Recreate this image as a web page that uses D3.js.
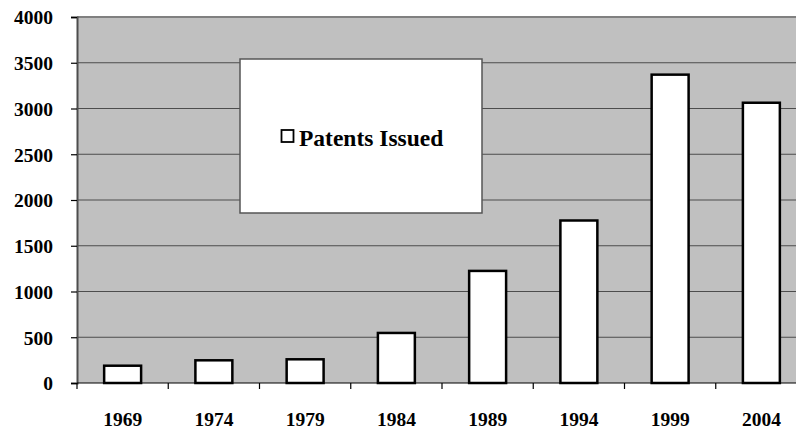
<!DOCTYPE html>
<html>
<head>
<meta charset="utf-8">
<script src="https://cdn.jsdelivr.net/npm/d3@7"></script>
<style>
  body { margin: 0; background: #fff; }
  text { font-family: "Liberation Serif", "Times New Roman", serif; font-weight: bold; }
</style>
</head>
<body>
<script>
var years = ["1969", "1974", "1979", "1984", "1989", "1994", "1999", "2004"];
var patents = [189, 248, 259, 547, 1225, 1776, 3370, 3063];
var yTicks = [0, 500, 1000, 1500, 2000, 2500, 3000, 3500, 4000];
var seriesName = "Patents Issued";

var width = 796,
    height = 429,
    plotLeft = 77,
    plotTop = 17,
    plotBottom = 383,
    plotRight = 807;

var svg = d3.select("body")
  .append("svg")
  .attr("width", width)
  .attr("height", height);

var x = d3.scaleBand()
  .domain(years)
  .range([plotLeft, plotRight])
  .paddingInner(0.595)
  .paddingOuter(0.2975);

var y = d3.scaleLinear()
  .domain([0, 4000])
  .range([plotBottom, plotTop]);

// plot background
svg.append("rect")
  .attr("x", plotLeft)
  .attr("y", plotTop)
  .attr("width", plotRight - plotLeft)
  .attr("height", plotBottom - plotTop)
  .attr("fill", "#c0c0c0");

// gridlines
svg.append("g")
  .selectAll("line")
  .data(yTicks.slice(1))
  .enter().append("line")
  .attr("x1", plotLeft)
  .attr("x2", plotRight)
  .attr("y1", function(d) { return y(d); })
  .attr("y2", function(d) { return y(d); })
  .attr("stroke", function(d) { return d == 4000 ? "#808080" : "#4d4d4d"; })
  .attr("stroke-width", function(d) { return d == 4000 ? 2 : 1.2; });

// y axis
var yAxis = svg.append("g")
  .attr("transform", "translate(" + plotLeft + ",0)")
  .call(d3.axisLeft(y).tickValues(yTicks).tickFormat(d3.format("d")).tickSize(6).tickPadding(18));
yAxis.select(".domain").attr("stroke", "#4d4d4d").attr("stroke-width", 2);
yAxis.selectAll(".tick line").attr("stroke", "#000").attr("stroke-width", 1.2);
yAxis.selectAll(".tick text")
  .attr("font-size", 19.5)
  .attr("fill", "#000")
  .attr("dy", "0.35em");

// x axis line + ticks at band boundaries
svg.append("line")
  .attr("x1", plotLeft).attr("x2", plotRight)
  .attr("y1", plotBottom).attr("y2", plotBottom)
  .attr("stroke", "#000").attr("stroke-width", 1.2);

var step = x.step();
svg.append("g")
  .selectAll("line")
  .data(d3.range(years.length + 1))
  .enter().append("line")
  .attr("x1", function(i) { return plotLeft + i * step; })
  .attr("x2", function(i) { return plotLeft + i * step; })
  .attr("y1", plotBottom)
  .attr("y2", plotBottom + 6)
  .attr("stroke", "#000")
  .attr("stroke-width", 1.2);

svg.append("g")
  .selectAll("text")
  .data(years)
  .enter().append("text")
  .attr("x", function(d) { return x(d) + x.bandwidth() / 2; })
  .attr("y", 425.5)
  .attr("text-anchor", "middle")
  .attr("font-size", 19.5)
  .text(function(d) { return d; });

// bars
svg.append("g")
  .selectAll("rect")
  .data(years)
  .enter().append("rect")
  .attr("x", function(d) { return x(d); })
  .attr("y", function(d, i) { return y(patents[i]); })
  .attr("width", x.bandwidth())
  .attr("height", function(d, i) { return plotBottom - y(patents[i]); })
  .attr("fill", "#fff")
  .attr("stroke", "#000")
  .attr("stroke-width", 2.5);

// legend
var legend = svg.append("g");
legend.append("rect")
  .attr("x", 240)
  .attr("y", 59)
  .attr("width", 242)
  .attr("height", 154)
  .attr("fill", "#fff")
  .attr("stroke", "#555")
  .attr("stroke-width", 1.5);
legend.append("rect")
  .attr("x", 281.5)
  .attr("y", 130)
  .attr("width", 12)
  .attr("height", 12)
  .attr("fill", "#fff")
  .attr("stroke", "#000")
  .attr("stroke-width", 1.8);
legend.append("text")
  .attr("x", 299)
  .attr("y", 145.5)
  .attr("font-size", 23.5)
  .text(seriesName);
</script>
</body>
</html>
